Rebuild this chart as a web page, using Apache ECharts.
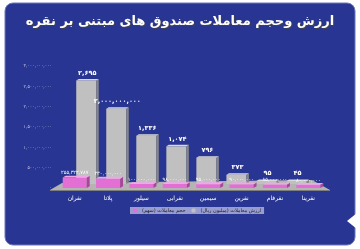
<!DOCTYPE html>
<html>
<head>
<meta charset="utf-8">
<script src="https://cdn.jsdelivr.net/npm/echarts@6/dist/echarts.min.js"></script>
<style>
  html, body { margin: 0; padding: 0; background: #fff; }
  #chart { width: 360px; height: 249px; }
</style>
</head>
<body>
<div id="chart"></div>
<script>
// funds
const funds = ['نقران', 'پلاتا', 'سیلور', 'نقرابی', 'سیمین', 'نقرین', 'نقرفام', 'نقرینا']
// trade value (rial) - gray bars
const tradeValue = [2695000000, 2000000000, 1336000000, 1074000000, 796000000, 373000000, 95000000, 45000000]
const valueLabels = ['۲,۶۹۵', '۲,۰۰۰,۰۰۰,۰۰۰', '۱,۳۳۶', '۱,۰۷۴', '۷۹۶', '۳۷۳', '۹۵', '۴۵']
// trade volume - pink bars
const tradeVolume = [255322787, 230000000, 100000000, 98000000, 95000000, 90000000, 85000000, 80000000]
const yTicks = [0, 500000000, 1000000000, 1500000000, 2000000000, 2500000000, 3000000000]

const volName = 'حجم معاملات (سهم)'
const valName = 'ارزش معاملات (میلیون ریال)'
const font = 'DejaVu Sans'

const fa = s => String(s).replace(/\d/g, d => '۰۱۲۳۴۵۶۷۸۹'[d])
const group = n => String(n).replace(/\B(?=(\d{3})+(?!\d))/g, ',')

let chart = echarts.init(document.getElementById('chart'))

function box(x0, w, yTop, yBot, d, cols) {
    return [
        { type: 'rect', shape: { x: x0, y: yTop, width: w, height: yBot - yTop }, style: { fill: cols[0] } },
        { type: 'polygon', shape: { points: [[x0 + w, yTop], [x0 + w + d, yTop - d * 0.6], [x0 + w + d, yBot - d * 0.6], [x0 + w, yBot]] }, style: { fill: cols[1] } },
        { type: 'polygon', shape: { points: [[x0, yTop], [x0 + d, yTop - d * 0.6], [x0 + w + d, yTop - d * 0.6], [x0 + w, yTop]] }, style: { fill: cols[2] } }
    ]
}

function renderValue(params, api) {
    let top = api.coord([api.value(0), api.value(1)])
    let base = api.coord([api.value(0), 0])
    let cx = top[0] + (190 - top[0]) * 0.1
    let w = 20
    let yBot = base[1] - 4
    let yTop = Math.min(top[1] + 2, yBot - 3)
    let kids = box(cx - w / 2, w, yTop, yBot, 2.5, ['#c0c0c0', '#868686', '#d8d8d8'])
    kids.push({
        type: 'text',
        style: {
            text: valueLabels[params.dataIndex], x: cx + 1, y: yTop - 4,
            align: 'center', verticalAlign: 'bottom',
            fill: '#fff', font: 'bold 6.5px ' + font,
            textShadowColor: 'rgba(0,0,0,0.6)', textShadowOffsetX: 0.5, textShadowOffsetY: 0.5
        }
    })
    return { type: 'group', children: kids }
}

function renderVolume(params, api) {
    let top = api.coord([api.value(0), api.value(1)])
    let base = api.coord([api.value(0), 0])
    let cx = top[0]
    let w = 24
    let yBot = base[1]
    let yTop = top[1]
    let kids = box(cx - w / 2, w, yTop, yBot, 3, ['#e46fd4', '#a8479a', '#f2a6ea'])
    kids.push({
        type: 'text',
        style: {
            text: fa(group(api.value(1))), x: cx, y: yTop - 2,
            align: 'center', verticalAlign: 'bottom',
            fill: '#fff', font: '5px ' + font
        }
    })
    return { type: 'group', children: kids }
}

let option = {
    animation: false,
    title: {
        text: 'ارزش وحجم معاملات صندوق های مبتنی بر نقره',
        left: 'center',
        top: 10,
        textStyle: {
            color: '#fff', fontSize: 13, fontWeight: 'bold', fontFamily: font,
            textShadowColor: '#444', textShadowBlur: 1, textShadowOffsetX: 1, textShadowOffsetY: 1
        }
    },
    legend: {
        data: [volName, valName],
        left: 130,
        top: 207,
        itemWidth: 4,
        itemHeight: 4,
        itemGap: 6,
        padding: [1, 3],
        backgroundColor: 'rgba(190,192,230,0.75)',
        textStyle: { color: '#222', fontSize: 5, fontFamily: font }
    },
    grid: { left: 58, right: 35, top: 66, bottom: 61 },
    xAxis: {
        type: 'category',
        data: funds,
        axisLine: { show: false },
        axisTick: { show: false },
        axisLabel: { color: '#fff', fontSize: 6, fontFamily: font, margin: 7 }
    },
    yAxis: {
        type: 'value',
        min: yTicks[0],
        max: yTicks[yTicks.length - 1],
        interval: yTicks[1] - yTicks[0],
        splitLine: { show: false },
        axisLine: { show: false },
        axisTick: { show: false },
        axisLabel: { color: '#c9cbe6', fontSize: 4.5, fontFamily: font, margin: 6, formatter: v => fa(group(v)) }
    },
    graphic: [
        { type: 'rect', z: -10, shape: { x: 5, y: 3, width: 350, height: 242, r: 8 }, style: { fill: '#283593', stroke: '#6f78b8', lineWidth: 1 } },
        { type: 'polygon', z: -9, shape: { points: [[357, 213], [347, 221], [357, 229]] }, style: { fill: '#fff' } },
        { type: 'polygon', z: -8, shape: { points: [[50, 190], [330, 190], [312, 180], [62, 183]] }, style: { fill: '#b4b4b4' } },
        { type: 'polygon', z: -8, shape: { points: [[50, 190], [330, 190], [330, 191], [50, 191]] }, style: { fill: '#7d7d7d' } }
    ],
    series: [
        { name: valName, type: 'custom', renderItem: renderValue, itemStyle: { color: '#c0c0c0' }, data: tradeValue.map((v, i) => [i, v]), z: 2 },
        { name: volName, type: 'custom', renderItem: renderVolume, itemStyle: { color: '#e46fd4' }, data: tradeVolume.map((v, i) => [i, v]), z: 3 }
    ]
}
chart.setOption(option)
</script>
</body>
</html>
